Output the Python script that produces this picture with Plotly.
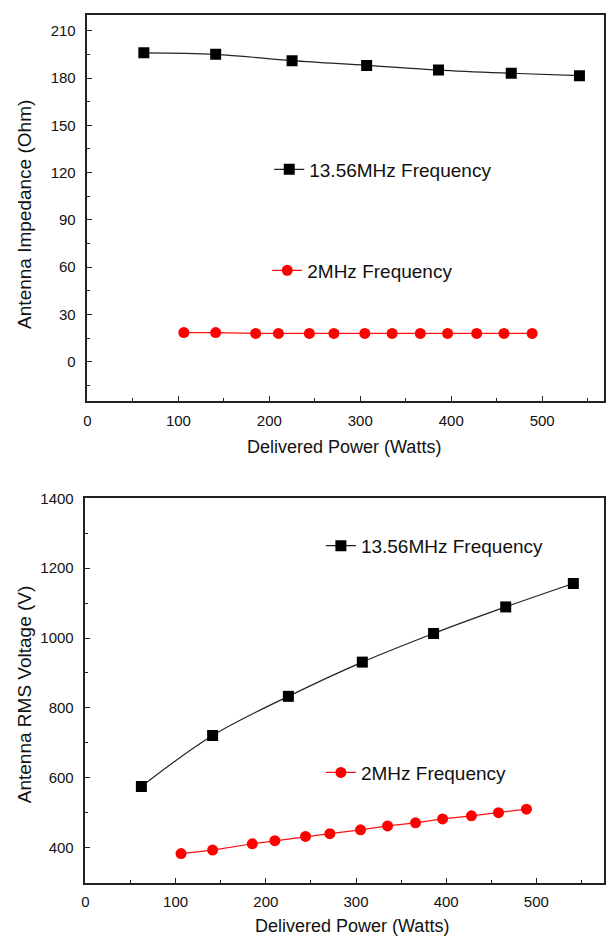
import plotly.graph_objects as go

# ---- data ----
power_1356 = [62, 141, 225, 307, 386, 466, 541]
imp_1356 = [196, 195, 191, 188, 185, 183, 181.5]
power_2 = [106, 141, 185, 210, 244, 271, 305, 335, 366, 396, 428, 458, 489]
imp_2 = [18.5, 18.5, 18, 18, 18, 18, 18, 18, 18, 18, 18, 18, 18]
volt_1356 = [575, 721, 833, 931, 1013, 1089, 1156]
volt_2 = [383, 393, 411, 420, 432, 440, 451, 462, 471, 482, 491, 500, 510]

name_a = "13.56MHz Frequency"
name_b = "2MHz Frequency"
x_title = "Delivered Power (Watts)"
y_title_top = "Antenna Impedance (Ohm)"
y_title_bot = "Antenna RMS Voltage (V)"

W, H = 606, 939
FONT = "Liberation Sans, Arial, sans-serif"
TFONT = "Liberation Sans, Arial, sans-serif"

def px(x):
    return x / W

def py(y):
    return 1 - y / H

fig = go.Figure()

fig.add_trace(go.Scatter(x=power_1356, y=imp_1356, name=name_a, mode="lines+markers",
                         line=dict(color="#222", width=1.2, shape="spline"),
                         marker=dict(symbol="square", size=11, color="black"),
                         xaxis="x", yaxis="y", legend="legend"))
fig.add_trace(go.Scatter(x=power_2, y=imp_2, name=name_b, mode="lines+markers",
                         line=dict(color="#ff1010", width=1.2),
                         marker=dict(symbol="circle", size=11, color="#ff0000"),
                         xaxis="x", yaxis="y", legend="legend2"))
fig.add_trace(go.Scatter(x=power_1356, y=volt_1356, name=name_a, mode="lines+markers",
                         line=dict(color="#222", width=1.2, shape="spline"),
                         marker=dict(symbol="square", size=11, color="black"),
                         xaxis="x2", yaxis="y2", legend="legend3"))
fig.add_trace(go.Scatter(x=power_2, y=volt_2, name=name_b, mode="lines+markers",
                         line=dict(color="#ff1010", width=1.2),
                         marker=dict(symbol="circle", size=11, color="#ff0000"),
                         xaxis="x2", yaxis="y2", legend="legend4"))

axis_common = dict(showline=True, linecolor="#222", linewidth=1.5, mirror=True,
                   ticks="inside", ticklen=5, tickcolor="#222", showgrid=False,
                   zeroline=False, tickfont=dict(family=FONT, size=15, color="#111"))

fig.update_layout(
    width=W, height=H, margin=dict(l=0, r=0, t=0, b=0),
    paper_bgcolor="white", plot_bgcolor="white",
    xaxis=dict(domain=[px(84), px(604)], range=[0, 568], dtick=100, tick0=0,
               anchor="y", minor=dict(dtick=50, ticks="inside", ticklen=3, tickcolor="#222"),
               ticklabelstandoff=5, **axis_common),
    yaxis=dict(domain=[py(396), py(6)], range=[-25, 220], dtick=30, tick0=0,
               anchor="x", minor=dict(dtick=15, ticks="inside", ticklen=3, tickcolor="#222"),
               ticklabelstandoff=7, **axis_common),
    xaxis2=dict(domain=[px(82), px(604)], range=[0, 575], dtick=100, tick0=0,
                anchor="y2", minor=dict(dtick=50, ticks="inside", ticklen=3, tickcolor="#222"),
                ticklabelstandoff=5, **axis_common),
    yaxis2=dict(domain=[py(882), py(494)], range=[300, 1400], dtick=200, tick0=0,
                anchor="x2", minor=dict(dtick=100, ticks="inside", ticklen=3, tickcolor="#222"),
                ticklabelstandoff=7, **axis_common),
    showlegend=True,
)

leg_common = dict(bgcolor="rgba(0,0,0,0)", font=dict(family=TFONT, size=19, color="#111"),
                  xanchor="left", yanchor="middle", itemwidth=30)
fig.update_layout(
    legend=dict(x=px(267), y=py(162), **leg_common),
    legend2=dict(x=px(265), y=py(264), **leg_common),
    legend3=dict(x=px(319), y=py(542), **leg_common),
    legend4=dict(x=px(319), y=py(771), **leg_common),
)

ann_font = dict(family=TFONT, size=18, color="#111")
fig.add_annotation(text=x_title, x=px(342), y=py(442), xref="paper", yref="paper",
                   xanchor="center", yanchor="middle", showarrow=False, font=ann_font)
fig.add_annotation(text=x_title, x=px(350), y=py(926), xref="paper", yref="paper",
                   xanchor="center", yanchor="middle", showarrow=False, font=ann_font)
ann_font_y = dict(family=TFONT, size=19, color="#111")
fig.add_annotation(text=y_title_top, x=px(20), y=py(207), xref="paper", yref="paper",
                   xanchor="center", yanchor="middle", showarrow=False,
                   font=ann_font_y, textangle=-90)
fig.add_annotation(text=y_title_bot, x=px(20), y=py(692), xref="paper", yref="paper",
                   xanchor="center", yanchor="middle", showarrow=False,
                   font=ann_font_y, textangle=-90)

fig.write_html("out.html")
